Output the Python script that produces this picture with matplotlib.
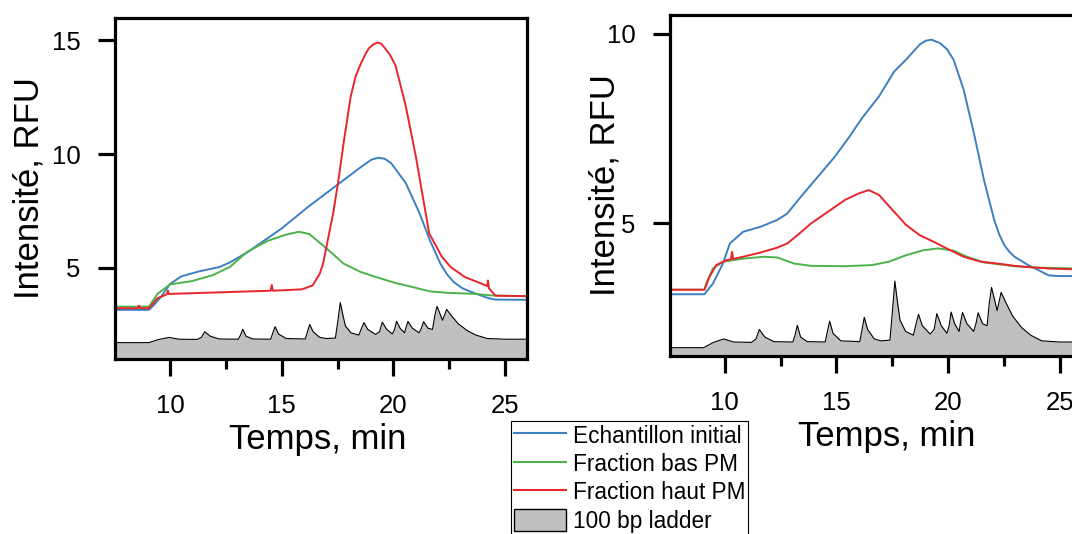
import matplotlib
matplotlib.use("Agg")
import matplotlib.pyplot as plt
from matplotlib.lines import Line2D
from matplotlib.patches import Patch

plt.rcParams['font.family'] = ['Liberation Sans', 'DejaVu Sans']

# ---- data (time in min, intensity in RFU) ----
# left panel
left_blue_t = [7.5, 9.05, 9.3, 9.58, 10.0, 10.5, 11.3, 12.2, 12.67, 13.45, 15.0, 16.2, 17.5,
               18.5, 19.0, 19.3, 19.6, 19.9, 20.55, 21.17, 21.63, 22.1, 22.4, 22.7, 23.1,
               23.5, 24.26, 24.57, 26.0]
left_blue_y = [3.16, 3.16, 3.4, 3.72, 4.3, 4.63, 4.85, 5.04, 5.24, 5.68, 6.74, 7.7, 8.66,
               9.4, 9.75, 9.84, 9.8, 9.6, 8.73, 7.4, 6.22, 5.19, 4.72, 4.38, 4.1,
               3.94, 3.67, 3.61, 3.6]

left_green_t = [7.5, 9.05, 9.43, 10.0, 10.97, 11.9, 12.67, 13.45, 14.37, 15.14, 15.76, 16.23,
                17.0, 17.77, 18.54, 19.32, 20.09, 20.86, 21.63, 22.4, 23.64, 24.41, 26.0]
left_green_y = [3.3, 3.3, 3.86, 4.28, 4.42, 4.68, 5.04, 5.71, 6.19, 6.45, 6.59, 6.49,
                5.86, 5.19, 4.82, 4.57, 4.34, 4.16, 3.97, 3.91, 3.86, 3.79, 3.76]

left_red_t = [7.5, 8.55, 8.6, 8.65, 9.05, 9.43, 9.85, 9.9, 9.95, 10.0, 11.6, 14.5, 14.55, 14.6,
              15.9, 16.38, 16.7, 16.85, 17.0, 17.3, 17.54, 17.77, 18.08, 18.3, 18.55, 18.75,
              18.9, 19.1, 19.3, 19.45, 19.62, 19.85, 20.09, 20.55, 21.0, 21.6, 22.17, 22.56,
              23.2, 23.95, 24.2, 24.23, 24.28, 24.57, 26.0]
left_red_y = [3.23, 3.23, 3.35, 3.23, 3.23, 3.67, 3.84, 4.0, 3.85, 3.86, 3.91, 4.0, 4.25, 4.0,
              4.06, 4.23, 4.75, 5.2, 5.93, 7.4, 8.88, 10.5, 12.5, 13.4, 14.0, 14.4,
              14.65, 14.82, 14.9, 14.85, 14.65, 14.35, 13.9, 12.12, 9.91, 6.52, 5.49, 5.04,
              4.6, 4.31, 4.2, 4.45, 4.1, 3.78, 3.76]

# right panel
right_blue_t = [7.5, 9.09, 9.47, 9.92, 10.23, 10.83, 11.6, 12.35, 12.8, 13.42, 14.17, 14.93,
                15.54, 16.15, 16.91, 17.59, 18.12, 18.73, 19.0, 19.26, 19.64, 19.95, 20.25,
                20.7, 21.16, 21.61, 22.07, 22.3, 22.52, 22.75, 22.98, 23.59, 24.04, 24.5,
                24.95, 26.0]
right_blue_y = [3.13, 3.13, 3.41, 3.94, 4.47, 4.78, 4.91, 5.09, 5.26, 5.71, 6.23, 6.76,
                7.25, 7.78, 8.35, 9.01, 9.32, 9.72, 9.82, 9.85, 9.76, 9.6, 9.32,
                8.53, 7.38, 6.15, 5.09, 4.7, 4.43, 4.25, 4.12, 3.9, 3.77, 3.63,
                3.61, 3.61]

right_green_t = [7.5, 9.09, 9.17, 9.47, 9.92, 10.83, 11.75, 12.35, 13.11, 13.87, 15.39, 16.6,
                 17.36, 18.12, 18.88, 19.56, 20.25, 20.85, 21.61, 22.98, 24.2, 26.0]
right_green_y = [3.25, 3.25, 3.41, 3.81, 3.99, 4.07, 4.12, 4.1, 3.94, 3.88, 3.87, 3.9,
                 3.99, 4.16, 4.29, 4.34, 4.28, 4.12, 3.97, 3.87, 3.83, 3.81]

right_red_t = [7.5, 9.09, 9.32, 9.62, 10.08, 10.28, 10.33, 10.38, 10.83, 11.6, 12.35, 12.8,
               13.26, 13.87, 14.63, 15.39, 16.0, 16.45, 16.91, 17.52, 18.12, 18.73, 19.34,
               19.94, 20.7, 21.46, 22.22, 22.98, 23.74, 24.5, 26.0]
right_red_y = [3.25, 3.25, 3.59, 3.9, 4.03, 4.05, 4.25, 4.06, 4.12, 4.23, 4.36, 4.47,
               4.69, 5.0, 5.31, 5.62, 5.79, 5.88, 5.75, 5.35, 4.96, 4.69, 4.52,
               4.34, 4.12, 3.99, 3.94, 3.88, 3.84, 3.81, 3.78]

# 100 bp ladder (same trace in both panels)
ladder_t = [7.5, 9.05, 9.5, 9.95, 10.4, 11.2, 11.4, 11.55, 11.8, 12.2, 13.05, 13.15, 13.25,
            13.4, 13.7, 14.5, 14.6, 14.7, 14.85, 15.2, 16.05, 16.15, 16.25, 16.4, 16.7,
            17.0, 17.4, 17.5, 17.62, 17.72, 17.85, 18.1, 18.45, 18.55, 18.68, 18.85, 19.2,
            19.38, 19.5, 19.7, 19.95, 20.05, 20.14, 20.3, 20.5, 20.55, 20.65, 20.85, 21.15,
            21.25, 21.35, 21.55, 21.75, 21.85, 21.95, 22.1, 22.2, 22.38, 22.6, 22.9, 23.3,
            23.7, 24.2, 25.0, 26.0]
ladder_y = [1.72, 1.72, 1.86, 1.95, 1.87, 1.86, 1.95, 2.2, 2.0, 1.88, 1.87, 2.05, 2.31,
            2.0, 1.88, 1.87, 2.15, 2.42, 2.1, 1.9, 1.88, 2.2, 2.52, 2.2, 1.95,
            1.9, 1.92, 2.6, 3.48, 3.0, 2.45, 2.15, 2.05, 2.3, 2.6, 2.3, 2.08,
            2.2, 2.62, 2.3, 2.1, 2.3, 2.66, 2.35, 2.15, 2.35, 2.65, 2.35, 2.15,
            2.35, 2.64, 2.35, 2.3, 2.9, 3.31, 2.95, 2.7, 3.18, 2.9, 2.55, 2.25,
            2.05, 1.9, 1.87, 1.87]

labels = ["Echantillon initial", "Fraction bas PM", "Fraction haut PM", "100 bp ladder"]
c_blue, c_green, c_red, c_gray = "#3d7fc0", "#4cb24a", "#e8252b", "#c0c0c0"


def draw_panel(ax, blue, green, red, ylim, yticks):
    ax.fill_between(ladder_t, ladder_y, 0, color=c_gray, lw=0)
    ax.plot(ladder_t, ladder_y, color="black", lw=0.8)
    ax.plot(*blue, color=c_blue, lw=1.4)
    ax.plot(*green, color=c_green, lw=1.4)
    ax.plot(*red, color=c_red, lw=1.4)
    ax.set_xlim(7.55, 26)
    ax.set_ylim(*ylim)
    ax.set_xticks([10, 15, 20, 25])
    ax.set_xticks([12.5, 17.5, 22.5], minor=True)
    ax.set_yticks(yticks)
    for s in ax.spines.values():
        s.set_linewidth(2.3)
    ax.tick_params(which="major", direction="out", length=12, width=2.3, labelsize=18.5, pad=13)
    ax.tick_params(which="minor", direction="out", length=7, width=2.3)
    ax.set_xlabel("Temps, min", fontsize=25, va="center")
    ax.set_ylabel("Intensité, RFU", fontsize=25, va="center")


fig = plt.figure(figsize=(10.72, 5.34), dpi=100)
ax1 = fig.add_axes([0.1077, 0.3277, 0.3843, 0.6395])
ax2 = fig.add_axes([0.625, 0.3333, 0.3843, 0.6386])

draw_panel(ax1, (left_blue_t, left_blue_y), (left_green_t, left_green_y),
           (left_red_t, left_red_y), (1, 16), [5, 10, 15])
draw_panel(ax2, (right_blue_t, right_blue_y), (right_green_t, right_green_y),
           (right_red_t, right_red_y), (1.5, 10.5), [5, 10])

ax1.yaxis.set_label_coords(-0.21, 0.5)
ax1.xaxis.set_label_coords(0.49, -0.235)
ax2.yaxis.set_label_coords(-0.158, 0.5)
ax2.xaxis.set_label_coords(0.525, -0.235)

handles = [Line2D([], [], color=c_blue, lw=1.5),
           Line2D([], [], color=c_green, lw=1.5),
           Line2D([], [], color=c_red, lw=1.5),
           Patch(facecolor=c_gray, edgecolor="black", lw=1)]
leg = fig.legend(handles, labels, loc="upper left", bbox_to_anchor=(511 / 1072, 1 - 421 / 534),
                 fontsize=16.3, frameon=True, fancybox=False, framealpha=1, edgecolor="black",
                 borderpad=0.12, borderaxespad=0, handlelength=2.3, handleheight=1.15,
                 handletextpad=0.3, labelspacing=0.2)
leg.get_frame().set_linewidth(0.8)

fig.savefig("out.png", dpi=100)
